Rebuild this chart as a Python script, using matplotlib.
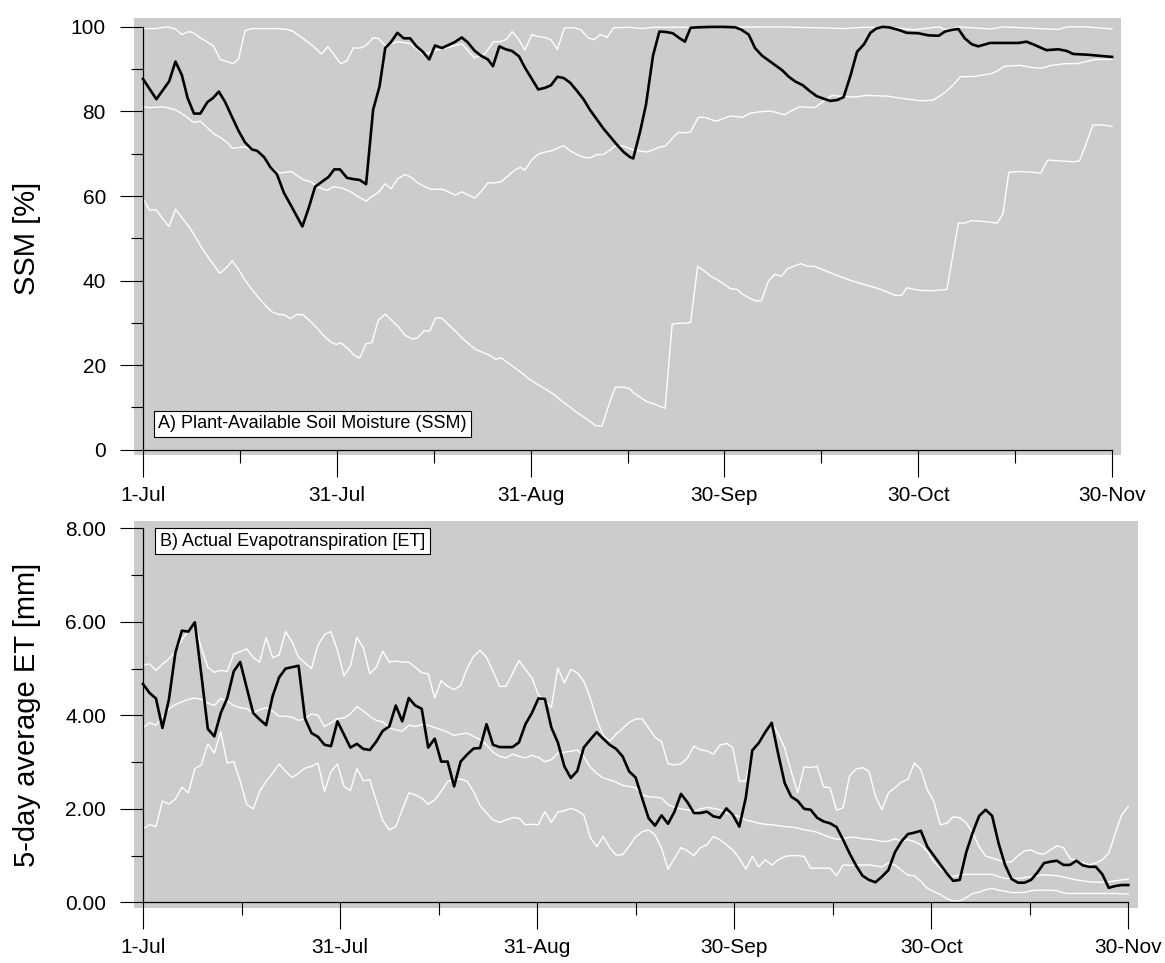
import numpy as np
import matplotlib
matplotlib.use('Agg')
import matplotlib.pyplot as plt
from matplotlib.ticker import FixedLocator, FormatStrFormatter

plt.rcParams['font.family'] = ['Liberation Sans', 'DejaVu Sans']

# ---- x axis: day index from 1-Jul (0) to 30-Nov (152)
tick_pos = np.linspace(0, 152, 6)
tick_lab = ['1-Jul', '31-Jul', '31-Aug', '30-Sep', '30-Oct', '30-Nov']
minor_pos = (tick_pos[:-1] + tick_pos[1:]) / 2

# ---- A) plant-available soil moisture [%], (day, value)
ssm_now = [(0, 87.7), (2.1, 82.9), (4.1, 87.1), (5.1, 91.8), (6.1, 88.6), (7.0, 83.2), (8.0, 79.5),
           (9.0, 79.5), (10.1, 82.2), (11.0, 83.2), (11.9, 84.7), (12.9, 82.2), (14.0, 78.6),
           (15.0, 75.4), (16.0, 72.7), (17.1, 71.0), (17.9, 70.7), (19.0, 69.2), (20.0, 66.8),
           (21.0, 65.2), (22.1, 60.8), (23.6, 56.7), (25.0, 52.8), (26.0, 57.2), (27.0, 62.2),
           (28.1, 63.4), (29.1, 64.5), (30.0, 66.3), (30.9, 66.3), (32.0, 64.3), (33.0, 64.0),
           (34.0, 63.8), (35.0, 62.8), (36.1, 80.4), (37.1, 85.9), (38.0, 95.0), (38.9, 96.4),
           (39.9, 98.6), (40.9, 97.3), (41.9, 97.3), (42.9, 95.4), (43.9, 94.1), (44.9, 92.3),
           (45.8, 95.6), (46.9, 95.0), (47.9, 95.7), (48.9, 96.4), (50.0, 97.5), (50.9, 96.4),
           (52.0, 94.4), (53.0, 93.2), (54.1, 92.3), (54.9, 90.7), (55.9, 95.4), (56.9, 94.7),
           (57.9, 94.3), (59.0, 93.0), (59.9, 90.4), (61.0, 87.7), (62.0, 85.2), (63.1, 85.6),
           (64.0, 86.2), (65.0, 88.2), (66.0, 87.9), (67.0, 86.8), (68.0, 85.0), (69.1, 82.9),
           (70.1, 80.4), (71.2, 78.1), (72.2, 76.0), (73.3, 74.0), (74.3, 72.2), (75.4, 70.4),
           (76.4, 69.2), (76.9, 68.9), (78.0, 75.4), (78.9, 81.6), (80.0, 93.2), (81.0, 98.9),
           (82.0, 98.8), (83.1, 98.5), (84.0, 97.5), (85.0, 96.5), (85.9, 99.8), (87.1, 99.9),
           (89.2, 100.0), (91.0, 100.0), (92.9, 99.9), (93.9, 99.3), (95.0, 98.2), (96.0, 95.0),
           (97.1, 93.2), (98.2, 92.0), (99.2, 90.9), (100.3, 89.7), (101.3, 88.2), (102.3, 87.1),
           (103.5, 86.2), (104.6, 84.8), (105.7, 83.6), (106.8, 83.0), (107.8, 82.5), (108.9, 82.7),
           (109.9, 83.4), (111.0, 88.6), (112.0, 94.1), (113.1, 95.9), (114.1, 98.6), (115.0, 99.6),
           (116.0, 100.0), (117.0, 99.9), (118.5, 99.3), (119.8, 98.6), (121.6, 98.5), (123.2, 98.0),
           (124.8, 97.9), (125.8, 98.9), (126.9, 99.3), (127.9, 99.5), (128.9, 97.3), (130.0, 95.9),
           (131.0, 95.4), (132.9, 96.2), (135.2, 96.2), (137.3, 96.2), (138.6, 96.5), (139.9, 95.7),
           (141.7, 94.5), (143.6, 94.7), (144.9, 94.3), (145.9, 93.6), (148.3, 93.4), (152.0, 92.9)]

ssm_max = [(0, 99.6), (1.9, 99.6), (3.8, 100.0), (5.1, 99.5), (6.1, 98.2), (7.2, 98.9), (7.9, 98.6),
           (9.0, 97.4), (10.0, 96.5), (11.1, 95.4), (12.1, 92.3), (13.2, 91.8), (14.1, 91.3),
           (15.0, 92.4), (16.0, 99.1), (17.1, 99.6), (21.0, 99.6), (22.6, 99.4), (23.6, 98.9),
           (24.7, 97.7), (25.8, 96.5), (26.8, 95.3), (28.0, 93.6), (29.0, 95.3), (29.9, 93.6),
           (31.0, 91.3), (32.0, 92.0), (33.0, 95.0), (34.1, 95.0), (35.0, 95.6), (36.1, 97.4),
           (36.9, 97.3), (38.0, 95.6), (40.0, 96.5), (42.0, 96.0), (44.0, 93.5), (46.0, 94.5),
           (48.0, 95.2), (50.0, 96.0), (52.0, 92.7), (53.6, 93.6), (55.0, 96.5), (56.0, 96.5),
           (57.0, 97.0), (57.9, 98.9), (59.0, 96.9), (59.9, 94.5), (61.0, 98.2), (62.0, 97.7),
           (63.1, 97.5), (64.0, 96.9), (65.0, 94.7), (66.1, 99.8), (67.7, 99.8), (68.7, 99.3),
           (69.8, 97.4), (70.8, 97.0), (71.7, 98.2), (72.8, 97.5), (73.8, 99.8), (76.4, 99.9),
           (78.3, 99.6), (80.0, 99.9), (100.0, 100.0), (108.0, 99.7), (110.0, 99.6), (113.0, 99.9),
           (118.0, 99.8), (121.0, 99.3), (122.5, 99.6), (124.8, 100.0), (125.8, 99.4), (127.0, 99.6),
           (128.0, 100.0), (133.0, 99.5), (135.0, 100.0), (142.0, 99.5), (143.6, 99.4),
           (145.0, 100.0), (148.0, 100.0), (152.0, 99.5)]

ssm_mean = [(0, 81.1), (1.1, 80.9), (3.2, 81.1), (5.1, 80.4), (6.1, 79.5), (7.2, 78.3), (7.9, 77.4),
            (9.0, 77.7), (10.0, 76.3), (11.1, 74.7), (12.2, 73.8), (13.2, 72.7), (14.0, 71.3),
            (15.3, 71.5), (16.0, 71.6), (17.1, 70.9), (18.2, 70.4), (19.2, 68.6), (20.2, 66.8),
            (21.3, 65.4), (22.3, 65.6), (23.3, 65.8), (24.1, 64.9), (25.2, 63.8), (26.3, 63.4),
            (27.3, 62.2), (28.9, 61.3), (29.9, 62.2), (31.2, 61.9), (32.6, 61.0), (33.9, 59.7),
            (35.0, 58.8), (36.1, 60.1), (36.9, 60.8), (38.0, 62.9), (38.9, 61.7), (39.9, 64.0),
            (41.1, 65.1), (42.0, 64.5), (43.1, 63.1), (44.2, 62.2), (45.3, 61.6), (46.9, 61.6),
            (47.9, 61.0), (49.0, 60.2), (50.0, 61.0), (51.1, 60.2), (52.0, 59.5), (53.0, 61.0),
            (54.1, 63.1), (55.1, 63.1), (56.2, 63.4), (57.2, 64.7), (58.3, 66.1), (59.2, 66.8),
            (59.9, 66.1), (61.0, 68.6), (62.0, 69.9), (63.1, 70.4), (64.1, 70.7), (65.0, 71.3),
            (66.0, 71.9), (67.0, 70.7), (68.1, 69.8), (69.1, 69.2), (70.1, 69.0), (71.2, 69.8),
            (72.2, 69.8), (73.3, 70.9), (74.1, 71.9), (75.4, 71.8), (76.9, 70.9), (79.0, 70.4),
            (80.0, 70.9), (81.0, 71.6), (81.9, 71.8), (83.0, 73.6), (84.0, 75.1), (85.0, 74.9),
            (85.9, 75.2), (87.1, 78.6), (88.2, 78.6), (89.1, 78.1), (90.0, 77.7), (91.0, 78.3),
            (92.1, 78.9), (93.1, 78.8), (94.0, 78.6), (95.1, 79.5), (96.2, 79.8), (97.3, 80.0),
            (98.3, 80.1), (99.3, 79.8), (100.6, 79.2), (102.0, 80.4), (103.0, 81.1), (104.1, 81.0),
            (105.4, 80.9), (106.8, 82.5), (108.1, 83.8), (109.4, 83.6), (111.5, 83.4), (113.6, 83.8),
            (116.9, 83.6), (118.5, 83.2), (122.1, 82.5), (124.0, 82.7), (125.8, 84.5), (127.1, 86.3),
            (128.2, 88.2), (130.5, 88.3), (132.9, 88.9), (133.9, 89.5), (135.2, 90.7), (137.6, 90.9),
            (139.4, 90.4), (140.9, 90.2), (142.5, 90.9), (144.6, 91.3), (146.6, 91.3), (149.3, 92.3),
            (152.0, 92.3)]

ssm_min = [(0, 59.5), (1.0, 56.7), (2.1, 56.7), (3.1, 54.6), (4.1, 52.8), (5.1, 56.9), (6.1, 54.9),
           (7.2, 52.8), (8.2, 50.4), (9.2, 47.8), (10.5, 44.9), (12.1, 41.7), (13.1, 43.1),
           (14.0, 44.7), (15.0, 42.6), (16.0, 40.1), (17.1, 37.9), (18.2, 35.8), (19.2, 34.2),
           (20.2, 32.6), (21.3, 32.0), (22.2, 31.9), (23.1, 31.0), (24.1, 32.0), (25.1, 31.9),
           (26.3, 30.3), (27.3, 28.8), (28.3, 27.1), (29.4, 25.5), (30.3, 24.9), (31.0, 25.3),
           (32.1, 24.0), (33.1, 22.4), (34.0, 21.7), (35.0, 25.1), (35.9, 25.3), (36.9, 30.6),
           (38.0, 32.1), (39.0, 30.6), (40.1, 29.0), (41.1, 27.1), (42.2, 26.2), (43.0, 26.4),
           (44.1, 28.1), (45.0, 28.1), (45.9, 31.2), (46.9, 31.1), (47.9, 29.6), (49.0, 28.1),
           (50.1, 26.4), (51.2, 24.9), (52.2, 23.7), (53.3, 23.0), (54.3, 22.4), (55.3, 21.4),
           (56.2, 21.7), (57.2, 20.6), (58.3, 19.4), (59.4, 18.2), (60.4, 16.9), (61.5, 15.8),
           (62.6, 14.8), (63.6, 13.9), (64.7, 12.8), (65.7, 11.5), (66.8, 10.3), (67.8, 9.1),
           (68.9, 8.0), (69.9, 6.9), (71.0, 5.7), (72.0, 5.6), (73.1, 10.7), (74.1, 14.8),
           (75.4, 14.8), (76.4, 14.4), (76.9, 13.5), (78.0, 12.4), (79.0, 11.4), (80.0, 10.9),
           (81.0, 10.3), (81.9, 9.8), (83.0, 29.7), (84.0, 29.9), (85.0, 29.9), (85.9, 30.1),
           (87.0, 43.4), (88.1, 42.2), (89.1, 41.0), (90.2, 40.1), (91.3, 39.0), (92.1, 38.1),
           (93.2, 37.9), (94.1, 36.7), (95.2, 35.8), (96.1, 35.2), (97.0, 35.2), (98.1, 39.9),
           (99.1, 41.5), (100.1, 41.0), (101.1, 42.8), (102.1, 43.4), (103.2, 44.0), (104.2, 43.4),
           (105.3, 43.4), (106.3, 42.8), (108.4, 41.5), (110.5, 40.3), (112.6, 39.3), (115.4, 38.1),
           (118.0, 36.5), (119.0, 36.5), (119.8, 38.3), (121.7, 37.7), (123.8, 37.6), (126.1, 37.9),
           (127.9, 53.6), (128.9, 53.6), (130.0, 54.2), (131.8, 54.0), (134.0, 53.6), (134.9, 55.8),
           (135.8, 65.6), (137.3, 65.8), (139.6, 65.6), (140.8, 65.4), (141.9, 68.5), (144.0, 68.3),
           (145.9, 68.1), (146.9, 68.3), (147.8, 71.8), (149.0, 76.8), (150.4, 76.8), (152.0, 76.5)]

# ---- B) 5-day average actual evapotranspiration [mm], one value per day
et_days = np.arange(153)
et_now = [4.67, 4.48, 4.36, 3.73, 4.34, 5.34, 5.81, 5.79, 5.99, 4.87,
          3.71, 3.55, 4.05, 4.37, 4.94, 5.14, 4.59, 4.05, 3.91, 3.79,
          4.41, 4.81, 5.00, 5.03, 5.06, 3.93, 3.62, 3.54, 3.37, 3.34,
          3.87, 3.59, 3.31, 3.39, 3.28, 3.26, 3.44, 3.67, 3.76, 4.21,
          3.87, 4.37, 4.21, 4.14, 3.31, 3.50, 3.01, 3.01, 2.48, 3.01,
          3.16, 3.29, 3.30, 3.81, 3.37, 3.32, 3.32, 3.32, 3.42, 3.81,
          4.05, 4.36, 4.35, 3.74, 3.42, 2.91, 2.66, 2.81, 3.31, 3.48,
          3.64, 3.50, 3.37, 3.28, 3.12, 2.80, 2.67, 2.23, 1.80, 1.64,
          1.86, 1.68, 1.94, 2.32, 2.14, 1.91, 1.91, 1.94, 1.84, 1.81,
          2.01, 1.87, 1.62, 2.24, 3.25, 3.41, 3.64, 3.84, 3.17, 2.55,
          2.26, 2.17, 2.00, 1.98, 1.81, 1.73, 1.69, 1.61, 1.34, 1.05,
          0.79, 0.57, 0.48, 0.43, 0.55, 0.69, 1.07, 1.30, 1.46, 1.49,
          1.53, 1.19, 1.00, 0.81, 0.62, 0.46, 0.48, 1.07, 1.49, 1.85,
          1.98, 1.85, 1.26, 0.80, 0.50, 0.42, 0.42, 0.48, 0.64, 0.84,
          0.87, 0.89, 0.80, 0.80, 0.89, 0.79, 0.76, 0.76, 0.60, 0.31,
          0.35, 0.37, 0.37]
et_max = [5.07, 5.10, 4.96, 5.09, 5.21, 5.36, 5.62, 5.80, 5.94, 5.44,
          5.03, 4.92, 4.96, 4.94, 5.31, 5.36, 5.42, 5.24, 5.14, 5.66,
          5.23, 5.29, 5.79, 5.57, 5.24, 5.12, 5.00, 5.50, 5.73, 5.79,
          5.39, 4.85, 5.05, 5.67, 5.44, 4.89, 5.03, 5.37, 5.14, 5.16,
          5.14, 5.14, 5.03, 4.91, 4.89, 4.37, 4.74, 4.62, 4.55, 4.64,
          5.00, 5.26, 5.39, 5.24, 4.94, 4.62, 4.62, 4.89, 5.17, 4.98,
          4.80, 4.44, 4.31, 4.17, 5.01, 4.69, 4.98, 4.91, 4.73, 4.37,
          3.91, 3.57, 3.45, 3.60, 3.72, 3.85, 3.92, 3.93, 3.73, 3.53,
          3.44, 2.96, 2.94, 2.96, 3.09, 3.34, 3.26, 3.24, 3.17, 3.36,
          3.40, 3.31, 2.59, 2.59, 3.25, 3.45, 3.65, 3.84, 3.60, 3.30,
          2.80, 2.34, 2.90, 2.88, 2.91, 2.47, 2.45, 1.97, 2.02, 2.70,
          2.85, 2.88, 2.80, 2.27, 1.98, 2.34, 2.45, 2.57, 2.63, 2.98,
          2.84, 2.41, 2.16, 1.66, 1.69, 1.83, 1.81, 1.70, 1.49, 1.19,
          0.99, 0.95, 0.90, 0.86, 0.87, 1.00, 1.10, 1.12, 1.05, 1.03,
          1.12, 1.21, 1.17, 0.94, 0.89, 0.85, 0.80, 0.84, 0.91, 1.05,
          1.48, 1.87, 2.05]
et_mean = [3.73, 3.84, 3.79, 3.96, 4.14, 4.23, 4.29, 4.34, 4.37, 4.34,
           4.26, 4.21, 4.36, 4.30, 4.21, 4.16, 4.14, 4.05, 4.12, 4.16,
           4.09, 3.98, 3.98, 3.96, 3.89, 3.93, 4.03, 4.00, 3.76, 3.84,
           3.93, 3.94, 4.03, 4.19, 4.09, 3.98, 3.89, 3.86, 3.73, 3.69,
           3.66, 3.79, 3.76, 3.80, 3.79, 3.74, 3.69, 3.64, 3.57, 3.60,
           3.62, 3.55, 3.48, 3.37, 3.21, 3.12, 3.09, 3.17, 3.12, 3.09,
           3.14, 3.10, 3.01, 3.05, 3.19, 3.21, 3.23, 3.26, 3.12, 2.89,
           2.76, 2.66, 2.62, 2.57, 2.50, 2.48, 2.45, 2.30, 2.26, 2.25,
           2.23, 2.09, 2.03, 2.00, 1.98, 1.94, 2.00, 2.03, 2.01, 1.98,
           1.91, 1.87, 1.84, 1.76, 1.73, 1.69, 1.67, 1.66, 1.64, 1.62,
           1.61, 1.59, 1.55, 1.53, 1.50, 1.44, 1.39, 1.35, 1.36, 1.39,
           1.39, 1.36, 1.35, 1.33, 1.30, 1.31, 1.36, 1.31, 1.34, 1.30,
           1.23, 1.09, 0.87, 0.73, 0.60, 0.55, 0.59, 0.60, 0.60, 0.60,
           0.60, 0.60, 0.55, 0.51, 0.51, 0.51, 0.53, 0.55, 0.57, 0.59,
           0.58, 0.57, 0.54, 0.51, 0.48, 0.46, 0.44, 0.43, 0.43, 0.44,
           0.46, 0.48, 0.50]
et_min = [1.57, 1.66, 1.62, 2.17, 2.10, 2.21, 2.46, 2.34, 2.86, 2.94,
          3.39, 3.19, 3.64, 2.98, 3.01, 2.59, 2.09, 2.00, 2.37, 2.59,
          2.76, 2.96, 2.80, 2.67, 2.76, 2.87, 2.91, 2.98, 2.37, 2.80,
          2.96, 2.48, 2.39, 2.86, 2.60, 2.62, 2.17, 1.75, 1.55, 1.62,
          1.98, 2.34, 2.30, 2.23, 2.10, 2.19, 2.37, 2.59, 2.62, 2.64,
          2.59, 2.37, 2.07, 1.91, 1.76, 1.71, 1.76, 1.81, 1.80, 1.66,
          1.67, 1.66, 1.94, 1.71, 1.93, 1.96, 2.01, 1.96, 1.87, 1.39,
          1.19, 1.41, 1.17, 1.01, 1.02, 1.20, 1.40, 1.51, 1.55, 1.44,
          1.16, 0.71, 0.94, 1.17, 1.10, 1.00, 1.17, 1.23, 1.41, 1.34,
          1.23, 1.12, 0.94, 0.71, 0.98, 0.76, 0.91, 0.80, 0.91, 0.98,
          1.00, 1.00, 0.98, 0.73, 0.73, 0.73, 0.73, 0.57, 0.80, 0.79,
          0.80, 0.80, 0.80, 0.78, 0.76, 0.84, 0.80, 0.69, 0.58, 0.57,
          0.45, 0.30, 0.23, 0.17, 0.08, 0.03, 0.03, 0.10, 0.19, 0.22,
          0.27, 0.30, 0.26, 0.24, 0.21, 0.21, 0.21, 0.25, 0.26, 0.26,
          0.26, 0.25, 0.20, 0.19, 0.19, 0.19, 0.19, 0.19, 0.19, 0.19,
          0.19, 0.18, 0.18]

BG = '#cccccc'
PX = 0.72  # points per pixel at 100 dpi

fig = plt.figure(figsize=(11.65, 9.63), dpi=100)
axA = fig.add_axes([0.1150, 0.5275, 0.8472, 0.4538])
axB = fig.add_axes([0.1150, 0.0574, 0.8618, 0.4016])


def frame(ax, ymax, ymajor, yminor, ylim, xlim):
    ax.set_facecolor(BG)
    ax.spines['top'].set_visible(False)
    ax.spines['right'].set_visible(False)
    ax.spines['left'].set_position(('data', 0))
    ax.spines['bottom'].set_position(('data', 0))
    ax.spines['left'].set_bounds(0, ymax)
    ax.spines['bottom'].set_bounds(0, 152)
    for s in ('left', 'bottom'):
        ax.spines[s].set_linewidth(0.9)
    ax.set_xlim(*xlim)
    ax.set_ylim(*ylim)
    ax.xaxis.set_major_locator(FixedLocator(tick_pos))
    ax.xaxis.set_minor_locator(FixedLocator(minor_pos))
    ax.set_xticklabels(tick_lab)
    ax.yaxis.set_major_locator(FixedLocator(ymajor))
    ax.yaxis.set_minor_locator(FixedLocator(yminor))
    ax.tick_params(axis='x', which='major', direction='out', length=27 * PX, width=0.8,
                   pad=9 * PX, labelsize=15)
    ax.tick_params(axis='x', which='minor', direction='out', length=13 * PX, width=0.8)
    ax.tick_params(axis='y', which='major', direction='out', length=23 * PX, width=0.8,
                   pad=14 * PX, labelsize=15)
    ax.tick_params(axis='y', which='minor', direction='out', length=12 * PX, width=0.8)


frame(axA, 100, np.arange(0, 101, 20), np.arange(10, 100, 20), (-1.25, 102.1), (-1.41, 153.4))
frame(axB, 8, np.arange(0, 9, 2), np.arange(1, 8, 2), (-0.115, 8.156), (-1.39, 153.5))
axB.yaxis.set_major_formatter(FormatStrFormatter('%.2f'))

# soil moisture
for series in (ssm_max, ssm_mean, ssm_min):
    d, v = np.array(series).T
    axA.plot(d, v, color='white', lw=1.0)
d, v = np.array(ssm_now).T
axA.plot(d, v, color='black', lw=1.9)

# evapotranspiration
for series in (et_max, et_mean, et_min):
    axB.plot(et_days, series, color='white', lw=1.0)
axB.plot(et_days, et_now, color='black', lw=1.9)

box = dict(boxstyle='square,pad=0.25', fc='white', ec='black', lw=0.8)
axA.text(2.43, 6.1, 'A) Plant-Available Soil Moisture (SSM)', fontsize=13,
         ha='left', va='center', bbox=box)
axB.text(2.62, 7.72, 'B) Actual Evapotranspiration [ET]', fontsize=13,
         ha='left', va='center', bbox=box)

fig.text(27 / 1165, 1 - 238 / 963, 'SSM [%]', rotation=90, fontsize=21,
         ha='center', va='center')
fig.text(27 / 1165, 1 - 715 / 963, '5-day average ET [mm]', rotation=90, fontsize=21,
         ha='center', va='center')

fig.savefig('out.png', dpi=100, facecolor='white')
